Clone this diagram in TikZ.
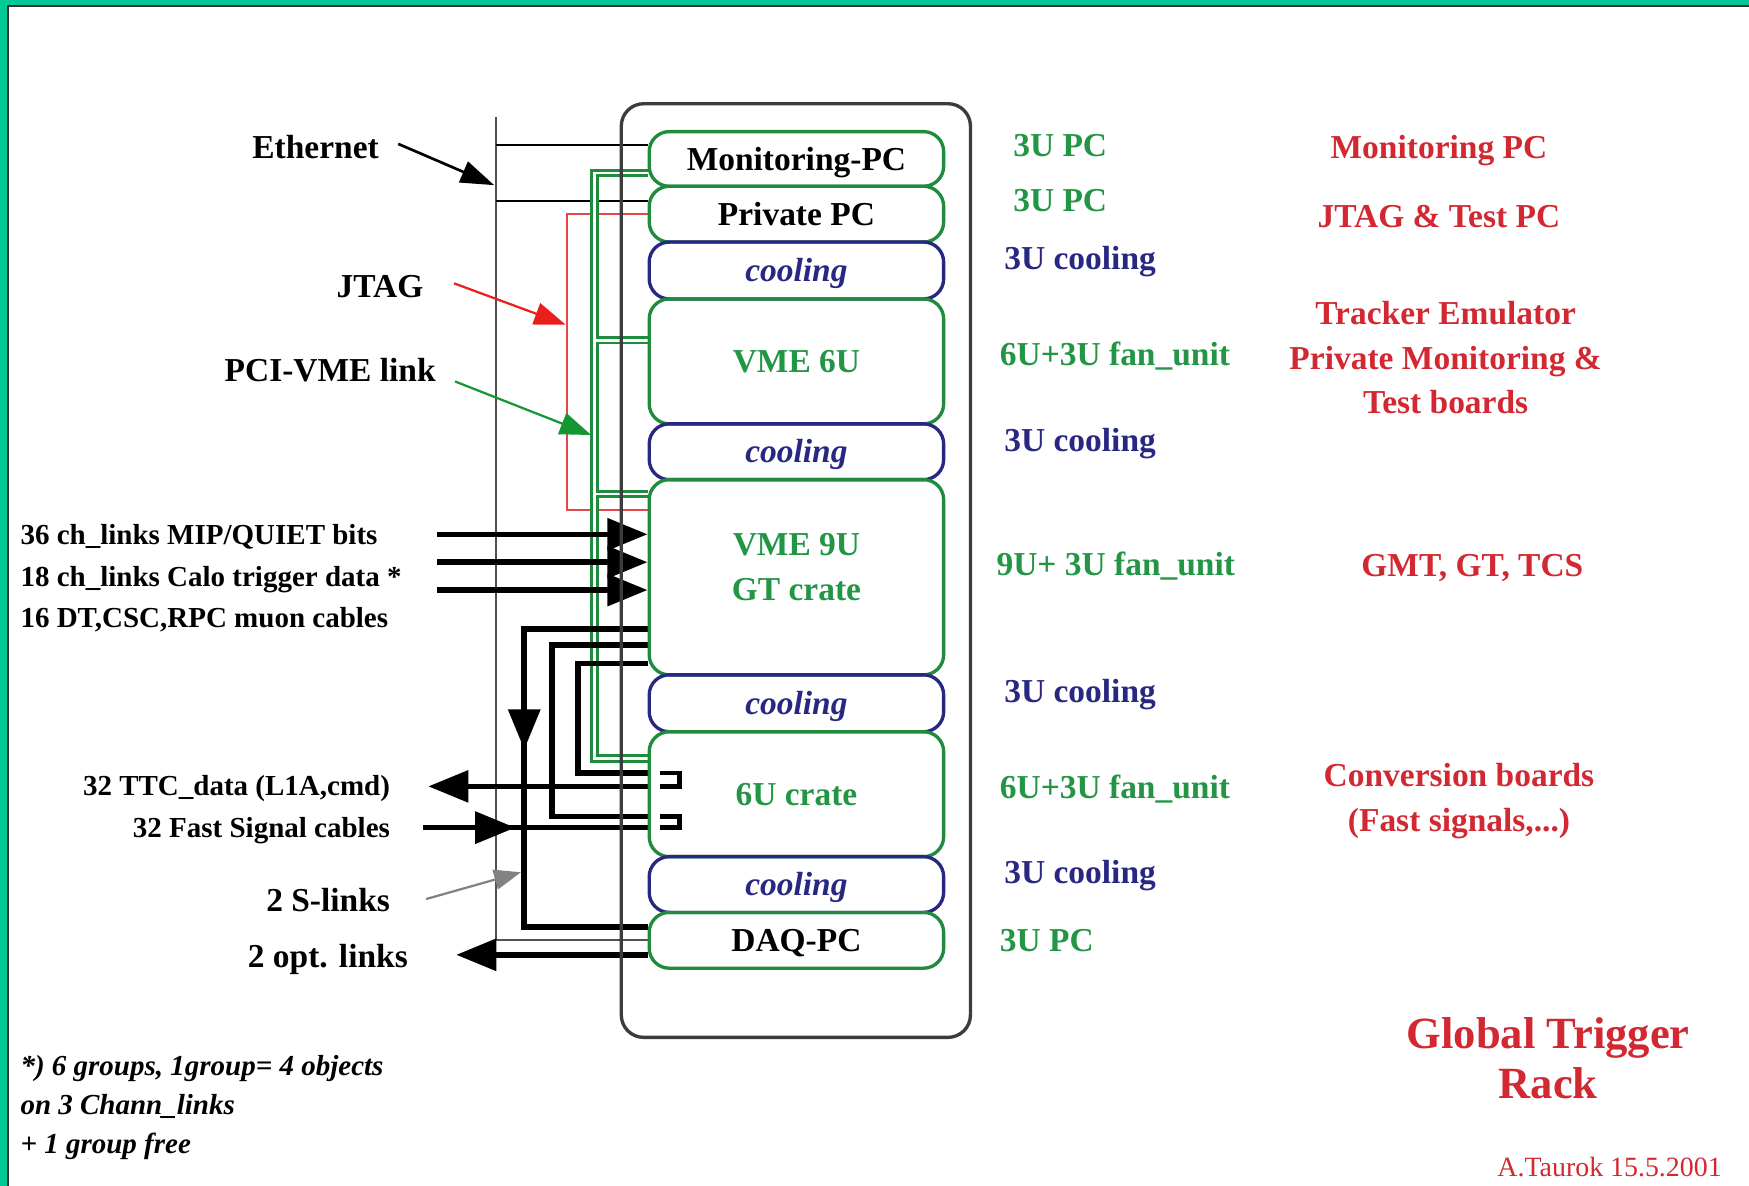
\documentclass[tikz,border=0pt]{standalone}
\usepackage{fontspec}
\setmainfont{Liberation Serif}
\usetikzlibrary{arrows.meta,backgrounds,calc}
\definecolor{frameteal}{RGB}{0,200,150}
\definecolor{framedark}{RGB}{50,50,50}
\definecolor{gbox}{RGB}{30,140,60}
\definecolor{gtext}{RGB}{35,150,70}
\definecolor{bbox}{RGB}{40,40,130}
\definecolor{rtext}{RGB}{210,40,50}
\definecolor{rline}{RGB}{230,70,70}
\definecolor{rarrow}{RGB}{235,30,30}
\definecolor{garrow}{RGB}{20,150,50}
\definecolor{rackgray}{RGB}{60,60,60}
\definecolor{busgray}{RGB}{80,80,80}
\definecolor{slgray}{RGB}{130,130,130}
\newcommand{\fszA}{\fontsize{15pt}{20pt}\selectfont}
\newcommand{\fszB}{\fontsize{13pt}{17.5pt}\selectfont}
\newcommand{\fszC}{\fontsize{20pt}{22.5pt}\selectfont}
\newcommand{\fszD}{\fontsize{12.5pt}{15pt}\selectfont}
\begin{document}
\begin{tikzpicture}[x=0.5pt,y=-0.5pt,
  modg/.style={draw=gbox, line width=1.5pt, rounded corners=9pt, minimum width=132pt,
    inner sep=0pt, font=\fszA\bfseries, text height=1.0em, text depth=0pt},
  modb/.style={draw=bbox, line width=1.5pt, rounded corners=9pt, minimum width=132pt,
    inner sep=0pt, font=\fszA\bfseries\itshape, text=bbox, text height=1.0em, text depth=0pt},
  lab/.style={inner sep=0pt, text height=1.0em, text depth=0pt, font=\fszA\bfseries},
  labs/.style={inner sep=0pt, text height=0.95em, text depth=0pt, font=\fszB\bfseries},
  thickline/.style={draw=black, line width=2.5pt},
  bigtip/.style={-{Triangle[length=18pt,width=14pt]}},
  thinline/.style={draw=black, line width=0.8pt},
  busline/.style={draw=busgray, line width=0.8pt},
  greenouter/.style={draw=gbox, line width=3.8pt},
  greeninner/.style={draw=white, line width=1.2pt},
]
\useasboundingbox (0,0) rectangle (1568,1063);
% frame
\fill[frameteal] (0,0) rectangle (1568,4.5);
\fill[frameteal] (0,0) rectangle (6,1063);
\fill[framedark] (6,4.5) rectangle (1568,6.5);
\fill[framedark] (6,4.5) rectangle (8,1063);

% rack
\draw[rackgray, line width=1.5pt, rounded corners=10pt] (557,93) rectangle (870,930);

% modules
\node[modg, minimum height=24.5pt] (mon) at (714,142.5) {Monitoring-PC};
\node[modg, minimum height=25pt] (priv) at (714,192) {Private PC};
\node[modb, minimum height=25.5pt] (cool1) at (714,242.5) {cooling};
\node[modg, minimum height=56pt, text=gtext] (vme6) at (714,324) {VME 6U};
\node[modb, minimum height=25pt] (cool2) at (714,405) {cooling};
\node[modg, minimum height=87.5pt] (vme9) at (714,517.5) {};
\node[lab, text=gtext, align=center] (vme9t) at (714,528) {VME 9U\\GT crate};
\node[modb, minimum height=25.5pt] (cool3) at (714,630.5) {cooling};
\node[modg, minimum height=56pt, text=gtext] (crate6) at (714,712) {6U crate};
\node[modb, minimum height=25pt] (cool4) at (714,793) {cooling};
\node[modg, minimum height=25pt] (daq) at (714,843) {DAQ-PC};

% right column
\node[lab, anchor=west, text=gtext] (r1) at (908,130) {3U PC};
\node[lab, anchor=west, text=gtext] (r2) at (908,180) {3U PC};
\node[lab, anchor=west, text=bbox] (r3) at (900,232) {3U cooling};
\node[lab, anchor=west, text=gtext] (r4) at (896,318) {6U+3U fan\_unit};
\node[lab, anchor=west, text=bbox] (r5) at (900,395) {3U cooling};
\node[lab, anchor=west, text=gtext] (r6) at (893,506) {9U+ 3U fan\_unit};
\node[lab, anchor=west, text=bbox] (r7) at (900,620) {3U cooling};
\node[lab, anchor=west, text=gtext] (r8) at (896,706) {6U+3U fan\_unit};
\node[lab, anchor=west, text=bbox] (r9) at (900,782) {3U cooling};
\node[lab, anchor=west, text=gtext] (r10) at (896,843) {3U PC};

% red descriptions
\node[lab, text=rtext] (d1) at (1290,132) {Monitoring PC};
\node[lab, text=rtext] (d2) at (1290,194) {JTAG \& Test PC};
\node[lab, text=rtext, align=center] (d3) at (1296,361) {Tracker Emulator\\Private Monitoring \&\\Test boards};
\node[lab, text=rtext] (d4) at (1320,507) {GMT, GT, TCS};
\node[lab, text=rtext, align=center] (d5) at (1308,735) {Conversion boards\\(Fast signals,...)};
\node[inner sep=0pt, text height=1.0em, text depth=0pt, font=\fszC\bfseries, text=rtext, align=center] (title) at (1388,975) {Global Trigger\\Rack};
\node[inner sep=0pt, text height=0.95em, text depth=0pt, font=\fszD, text=rtext] (author) at (1443,1045) {A.Taurok 15.5.2001};

% left labels
\node[lab, anchor=east] (eth) at (340,132) {Ethernet};
\node[lab, anchor=east] (jtag) at (380,257) {JTAG};
\node[lab, anchor=east] (pci) at (391,332) {PCI-VME link};
\node[labs, anchor=west] (in1) at (18,479) {36 ch\_links MIP/QUIET bits};
\node[labs, anchor=west] (in2) at (18,516) {18 ch\_links Calo trigger data *};
\node[labs, anchor=west] (in3) at (18,553) {16 DT,CSC,RPC muon cables};
\node[labs, anchor=east] (ttc) at (350,704) {32 TTC\_data (L1A,cmd)};
\node[labs, anchor=east] (fast) at (350,741) {32 Fast Signal cables};
\node[lab, anchor=east] (slink) at (350,807) {2 S-links};
\node[lab, anchor=east] (opt) at (366,857) {2 opt. links};
\node[inner sep=0pt, text height=0.95em, text depth=0pt, font=\fszB\bfseries\itshape, anchor=west, align=left] (foot) at (18,1025) {*) 6 groups, 1group= 4 objects\\on 3 Chann\_links\\+ 1 group free};

% coordinates
\coordinate (bustop) at (445,105);
\coordinate (buscorner) at (445,843);
\coordinate (e1) at (445,130);
\coordinate (e2) at (445,180);
\coordinate (ethA) at (357,129);
\coordinate (ethB) at (443,166);
\coordinate (j1) at (508,192);
\coordinate (j2) at (508,457);
\coordinate (jA) at (407,254);
\coordinate (jB) at (507,291);
\coordinate (g1) at (533,155);
\coordinate (g2) at (533,305);
\coordinate (g3) at (533,443);
\coordinate (g4) at (533,680);
\coordinate (pA) at (408,342);
\coordinate (pB) at (530,390);
\coordinate (i1) at (392,479);
\coordinate (i2) at (392,504);
\coordinate (i3) at (392,529);
\coordinate (o1a) at (582,564);
\coordinate (o1b) at (470,564);
\coordinate (o1c) at (470,831);
\coordinate (o1m) at (470,672);
\coordinate (o2a) at (582,578);
\coordinate (o2b) at (495,578);
\coordinate (o2c) at (495,732);
\coordinate (o3a) at (582,595);
\coordinate (o3b) at (518,595);
\coordinate (o3c) at (518,693);
\coordinate (ttcend) at (384,705);
\coordinate (ttcy) at (582,705);
\coordinate (faststart) at (379,742);
\coordinate (fastmid) at (462,742);
\coordinate (opty) at (582,856);
\coordinate (optend) at (409,856);
\coordinate (sA) at (382,806);
\coordinate (sB) at (467,782);

\begin{pgfonlayer}{background}
% ethernet bus
\draw[busline] (bustop) -- (buscorner) -- (buscorner -| daq.west);
\draw[thinline] (e1) -- (e1 -| mon.west);
\draw[thinline] (e2) -- (e2 -| priv.west);
% JTAG red line
\draw[rline, line width=0.8pt] (priv.west |- j1) -- (j1) -- (j2) -- (j2 -| vme9.west);
% green PCI-VME (outlined)
\draw[greenouter] (g1 -| mon.west) -- (g1) -- (g4) -- (g4 -| crate6.west);
\draw[greenouter] (g2) -- (g2 -| vme6.west);
\draw[greenouter] (g3) -- (g3 -| vme9.west);
\draw[greeninner] (g1 -| mon.west) -- (g1) -- (g4) -- (g4 -| crate6.west);
\draw[greeninner] (g2) -- (g2 -| vme6.west);
\draw[greeninner] (g3) -- (g3 -| vme9.west);
% input arrows
\draw[thickline, bigtip] (i1) -- (i1 -| vme9.west);
\draw[thickline, bigtip] (i2) -- (i2 -| vme9.west);
\draw[thickline, bigtip] (i3) -- (i3 -| vme9.west);
% outputs
\draw[thickline] (o1a -| vme9.west) -- (o1b) -- (o1c) -- (o1c -| daq.west);
\draw[thickline, bigtip] (o1b) -- (o1m);
\draw[thickline] (o2a -| vme9.west) -- (o2b) -- (o2c) -- (o2c -| crate6.west);
\draw[thickline] (o3a -| vme9.west) -- (o3b) -- (o3c) -- (o3c -| crate6.west);
\draw[thickline, bigtip] (ttcy -| crate6.west) -- (ttcend);
\draw[thickline] (faststart) -- (faststart -| crate6.west);
\draw[thickline, bigtip] (faststart) -- (fastmid);
\draw[thickline, bigtip] (opty -| daq.west) -- (optend);
% arrows from labels
\draw[black, line width=1.2pt, -{Triangle[length=15pt,width=10pt]}] (ethA) -- (ethB);
\draw[rarrow, line width=1pt, -{Triangle[length=14pt,width=10pt]}] (jA) -- (jB);
\draw[garrow, line width=1pt, -{Triangle[length=14pt,width=10pt]}] (pA) -- (pB);
\draw[slgray, line width=1pt, -{Triangle[length=12pt,width=9pt]}] (sA) -- (sB);
\end{pgfonlayer}

% connector brackets on 6U crate
\draw[thickline, line width=2pt] (592,693) -- (609,693) -- (609,705) -- (592,705);
\draw[thickline, line width=2pt] (592,732) -- (609,732) -- (609,742) -- (592,742);
\end{tikzpicture}
\end{document}
